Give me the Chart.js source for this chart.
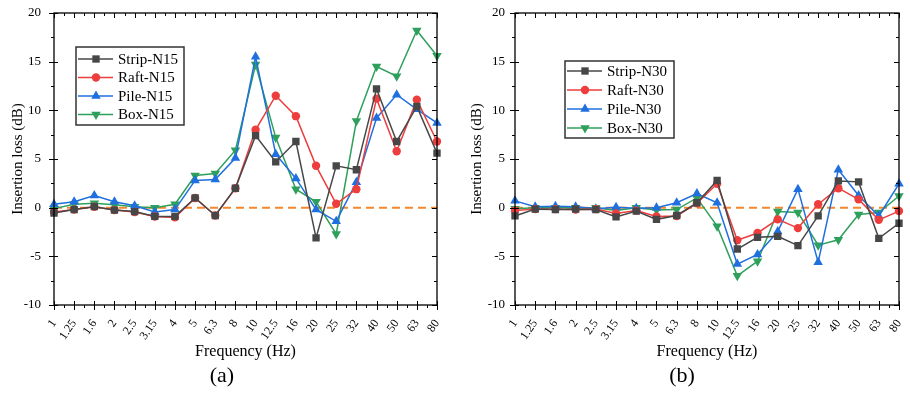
<!DOCTYPE html>
<html lang="en">
<head>
<meta charset="UTF-8">
<title>Insertion loss</title>
<script src="https://cdn.jsdelivr.net/npm/chart.js"></script>
<style>
  body { margin: 0; background: #fff; }
  .wrap { position: relative; width: 910px; height: 396px; }
  .panel { position: absolute; top: 0; width: 455px; height: 396px; }
  .caption { position: absolute; top: 362px; width: 60px; text-align: center;
             font: 22px "Liberation Serif", serif; color: #000; }
</style>
</head>
<body>
<div class="wrap">
  <div class="panel" style="left:0"><canvas id="chartA"></canvas></div>
  <div class="panel" style="left:455px"><canvas id="chartB"></canvas></div>
  <div class="caption" style="left:192px">(a)</div>
  <div class="caption" style="left:652px">(b)</div>
</div>

<script>
// frequency bands (Hz)
const freqLabels = ['1', '1.25', '1.6', '2', '2.5', '3.15', '4', '5', '6.3', '8',
                    '10', '12.5', '16', '20', '25', '32', '40', '50', '63', '80'];

// panel (a) - N15
const stripN15 = [-0.55, -0.2, 0.1, -0.25, -0.4, -0.9, -0.9, 1.0, -0.8, 2.0, 7.4, 4.7, 6.8, -3.1, 4.3, 3.9, 12.2, 6.8, 10.4, 5.6];
const raftN15  = [-0.45, -0.2, 0.1, -0.25, -0.45, -0.9, -1.0, 1.0, -0.8, 2.0, 8.0, 11.5, 9.4, 4.3, 0.4, 1.9, 11.2, 5.8, 11.1, 6.8];
const pileN15  = [0.35, 0.6, 1.25, 0.6, 0.2, -0.45, -0.2, 2.8, 2.9, 5.1, 15.5, 5.5, 3.0, -0.2, -1.4, 2.6, 9.2, 11.6, 10.1, 8.7];
const boxN15   = [-0.1, 0.35, 0.45, 0.3, 0.1, 0.0, 0.35, 3.3, 3.5, 5.9, 14.7, 7.2, 1.9, 0.6, -2.7, 8.9, 14.5, 13.5, 18.2, 15.6];

// panel (b) - N30
const stripN30 = [-0.85, -0.15, -0.2, -0.15, -0.2, -0.95, -0.35, -1.2, -0.8, 0.5, 2.8, -4.25, -3.05, -2.95, -3.9, -0.85, 2.75, 2.65, -3.15, -1.6];
const raftN30  = [-0.3, -0.15, -0.15, -0.2, -0.15, -0.6, -0.3, -0.9, -0.85, 0.45, 2.45, -3.35, -2.6, -1.2, -2.1, 0.35, 2.0, 0.85, -1.25, -0.35];
const pileN30  = [0.7, 0.1, 0.15, 0.1, -0.1, 0.05, -0.05, 0.0, 0.5, 1.45, 0.5, -5.8, -4.8, -2.45, 1.9, -5.6, 3.9, 1.25, -0.85, 2.45];
const boxN30   = [-0.1, 0.0, 0.0, 0.0, 0.0, -0.3, 0.0, -0.25, -0.2, 1.0, -1.9, -7.0, -5.5, -0.4, -0.5, -3.85, -3.3, -0.7, -0.5, 1.2];

// zero reference line
const zeroLine = [0, 0, 0, 0, 0, 0, 0, 0, 0, 0, 0, 0, 0, 0, 0, 0, 0, 0, 0, 0];

const yTicks = [-10, -5, 0, 5, 10, 15, 20];

const SERIF = '"Liberation Serif", "Times New Roman", serif';
const styles = [
    { color: '#474747', pointStyle: 'rect',     rotation: 0,   radius: 5.2 },
    { color: '#EE3D3D', pointStyle: 'circle',   rotation: 0,   radius: 4.2 },
    { color: '#1F6FDE', pointStyle: 'triangle', rotation: 0,   radius: 5.5 },
    { color: '#2FA05C', pointStyle: 'triangle', rotation: 180, radius: 5.5 }
];

// draws a marker the same way for the legend
function drawMarker(ctx, st, x, y) {
    const r = st.radius;
    ctx.beginPath();
    if (st.pointStyle === 'rect') {
        const s = Math.SQRT1_2 * r;
        ctx.rect(x - s, y - s, 2 * s, 2 * s);
    } else if (st.pointStyle === 'circle') {
        ctx.arc(x, y, r, 0, Math.PI * 2);
    } else {
        let rad = st.rotation * Math.PI / 180;
        ctx.moveTo(x + Math.sin(rad) * r, y - Math.cos(rad) * r);
        for (let k = 0; k < 2; k++) {
            rad += 2 * Math.PI / 3;
            ctx.lineTo(x + Math.sin(rad) * r, y - Math.cos(rad) * r);
        }
        ctx.closePath();
    }
    ctx.fillStyle = st.color;
    ctx.fill();
}

// box frame with Origin-like ticks
const framePlugin = {
    id: 'frame',
    afterDatasetsDraw(chart) {
        const ctx = chart.ctx;
        const a = chart.chartArea;
        const xs = chart.scales.x, ys = chart.scales.y;
        ctx.save();
        ctx.strokeStyle = '#000';
        ctx.lineWidth = 1.3;
        ctx.strokeRect(a.left, a.top, a.right - a.left, a.bottom - a.top);
        ctx.lineWidth = 1;
        ctx.beginPath();
        // y ticks
        for (let v = -10; v <= 20; v += 2.5) {
            const y = Math.round(ys.getPixelForValue(v)) + 0.5;
            const major = v % 5 === 0;
            const len = major ? 5 : 3;
            ctx.moveTo(a.left - len, y); ctx.lineTo(a.left + (major ? 4 : 0), y);
            ctx.moveTo(a.right, y); ctx.lineTo(a.right - len, y);
        }
        // x ticks
        for (let i = 0; i < freqLabels.length; i++) {
            const x = Math.round(xs.getPixelForValue(i)) + 0.5;
            ctx.moveTo(x, a.bottom + 5); ctx.lineTo(x, a.bottom - 4);
            ctx.moveTo(x, a.top); ctx.lineTo(x, a.top + 5);
            if (i < freqLabels.length - 1) {
                const xm = Math.round((xs.getPixelForValue(i) + xs.getPixelForValue(i + 1)) / 2) + 0.5;
                ctx.moveTo(xm, a.bottom); ctx.lineTo(xm, a.bottom + 3);
                ctx.moveTo(xm, a.top); ctx.lineTo(xm, a.top + 3);
            }
        }
        ctx.stroke();
        ctx.restore();
    },
    afterDraw(chart, args, opts) {
        if (!opts.box) return;
        const ctx = chart.ctx;
        const b = opts.box;
        ctx.save();
        ctx.fillStyle = '#fff';
        ctx.fillRect(b.x, b.y, b.w, b.h);
        ctx.strokeStyle = '#333';
        ctx.lineWidth = 1.5;
        ctx.strokeRect(b.x, b.y, b.w, b.h);
        ctx.font = '15px ' + SERIF;
        ctx.textBaseline = 'middle';
        chart.data.datasets.slice(0, 4).forEach((ds, i) => {
            const y = b.y + b.first + i * b.step;
            const st = styles[i];
            ctx.strokeStyle = st.color;
            ctx.lineWidth = 1.5;
            ctx.beginPath();
            ctx.moveTo(b.x + 2, y); ctx.lineTo(b.x + 37, y);
            ctx.stroke();
            drawMarker(ctx, st, b.x + 20, y);
            ctx.fillStyle = '#000';
            ctx.fillText(ds.label, b.x + 42, y + 1);
        });
        ctx.restore();
    }
};

function makeChart(id, series, names, layout) {
    const datasets = series.map((vals, i) => ({
        label: names[i],
        data: vals,
        borderColor: styles[i].color,
        backgroundColor: styles[i].color,
        borderWidth: 1.5,
        pointStyle: styles[i].pointStyle,
        pointRotation: styles[i].rotation,
        pointRadius: styles[i].radius,
        pointBorderWidth: 0,
        tension: 0
    }));
    datasets.push({
        label: 'zero',
        data: zeroLine,
        borderColor: '#F5872E',
        borderWidth: 2,
        borderDash: [8, 5],
        pointRadius: 0,
        order: 10
    });

    return new Chart(document.getElementById(id), {
        type: 'line',
        data: { labels: freqLabels, datasets: datasets },
        options: {
            responsive: true,
            maintainAspectRatio: false,
            animation: false,
            layout: { padding: { top: 13, right: layout.right, bottom: 31, left: 0 } },
            plugins: {
                legend: { display: false },
                tooltip: { enabled: false },
                frame: { box: layout.box }
            },
            scales: {
                x: {
                    type: 'category',
                    offset: false,
                    grid: { display: false },
                    border: { display: false },
                    ticks: {
                        autoSkip: false,
                        minRotation: 55,
                        maxRotation: 55,
                        padding: 4,
                        color: '#000',
                        font: { family: SERIF, size: 12 }
                    },
                    title: {
                        display: true,
                        text: 'Frequency (Hz)',
                        color: '#000',
                        font: { family: SERIF, size: 16 },
                        padding: { top: 0, bottom: 4 }
                    },
                    afterFit(scale) {
                        scale.height = 60;
                        scale.paddingLeft = 0;
                        scale.paddingRight = 0;
                    }
                },
                y: {
                    min: -10,
                    max: 20,
                    grid: { display: false, drawTicks: false },
                    border: { display: false },
                    afterBuildTicks(scale) { scale.ticks = yTicks.map(v => ({ value: v })); },
                    ticks: {
                        padding: layout.tickPad,
                        color: '#000',
                        font: { family: SERIF, size: 13 }
                    },
                    title: {
                        display: true,
                        text: 'Insertion loss (dB)',
                        color: '#000',
                        font: { family: SERIF, size: 15 },
                        padding: { top: layout.titlePad, bottom: 0 }
                    },
                    afterFit(scale) {
                        scale.width = layout.yWidth;
                        scale.paddingTop = 0;
                        scale.paddingBottom = 0;
                    }
                }
            }
        },
        plugins: [framePlugin]
    });
}

makeChart('chartA', [stripN15, raftN15, pileN15, boxN15],
          ['Strip-N15', 'Raft-N15', 'Pile-N15', 'Box-N15'],
          { right: 18, yWidth: 54, tickPad: 13, titlePad: 9,
            box: { x: 76, y: 47, w: 108, h: 78, first: 12, step: 18.5 } });

makeChart('chartB', [stripN30, raftN30, pileN30, boxN30],
          ['Strip-N30', 'Raft-N30', 'Pile-N30', 'Box-N30'],
          { right: 11, yWidth: 60, tickPad: 10, titlePad: 13,
            box: { x: 110, y: 61, w: 109, h: 77, first: 10, step: 19 } });
</script>
</body>
</html>
